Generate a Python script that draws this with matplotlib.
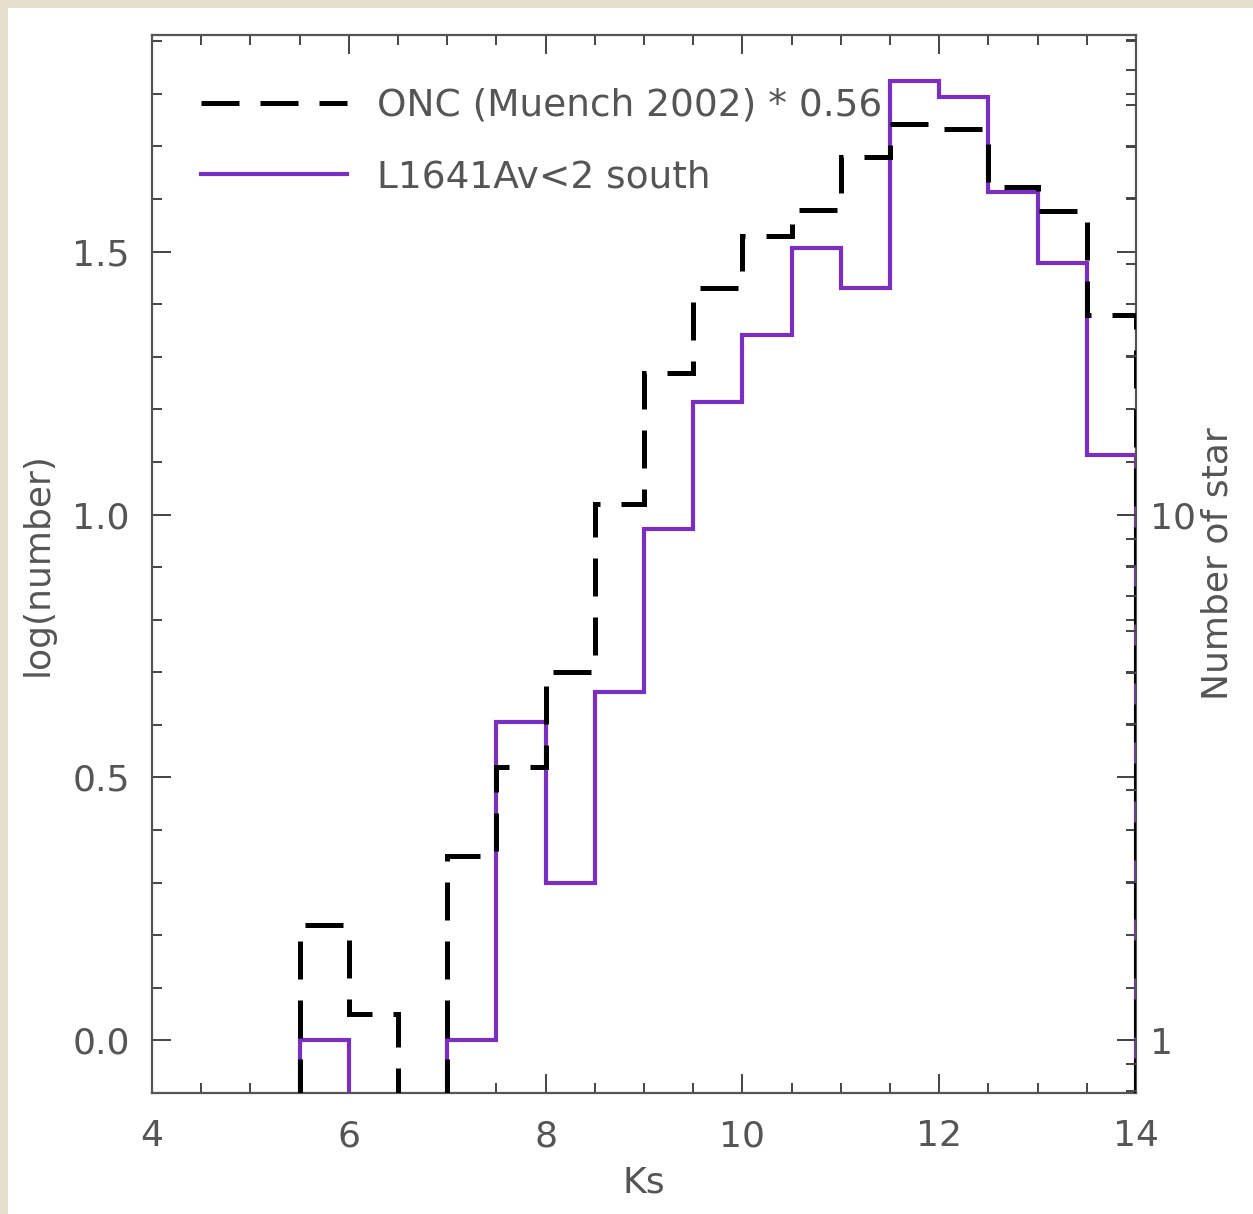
import numpy as np
import matplotlib
matplotlib.use("Agg")
import matplotlib.pyplot as plt
from matplotlib.patches import Rectangle
from matplotlib.ticker import FixedLocator, NullFormatter, FixedFormatter

# bin edges (Ks magnitude) and log10 counts; nan = empty bin (below the axis)
edges = np.arange(5.5, 14.01, 0.5)
onc_log = [0.22, 0.05, np.nan, 0.35, 0.52, 0.70, 1.02, 1.27, 1.43, 1.53,
           1.58, 1.68, 1.743, 1.733, 1.622, 1.577, 1.38]
l1641_log = [0.0, np.nan, np.nan, 0.0, 0.605, 0.30, 0.663, 0.973, 1.215, 1.342,
             1.506, 1.43, 1.825, 1.795, 1.614, 1.479, 1.114]

onc_label = "ONC (Muench 2002) * 0.56"
l1641_label = "L1641Av<2 south"

x_ticks = [4, 6, 8, 10, 12, 14]
y_ticks = [0.0, 0.5, 1.0, 1.5]
right_ticks = [1, 10]
right_minor = [0.8, 0.9, 2, 3, 4, 5, 6, 7, 8, 9, 20, 30, 40, 50, 60, 70, 80]

ymin, ymax = -0.1, 1.912
floor = -1.0  # where empty bins are drawn (clipped off the axes)

purple = "#7b2fc0"
gray = "#555555"
fs = 26

fig = plt.figure(figsize=(12.53, 12.14), dpi=100, facecolor="#e4dfcb")
fig.patches.append(Rectangle((8 / 1253, 0), 1, 1 - 8 / 1214, transform=fig.transFigure,
                             facecolor="white", edgecolor="none", zorder=-5))

ax = fig.add_axes([152 / 1253, 1 - 1093 / 1214, 984 / 1253, 1058 / 1214])
ax.set_facecolor("white")

l1641_vals = np.nan_to_num(np.array(l1641_log), nan=floor)
onc_vals = np.nan_to_num(np.array(onc_log), nan=floor)
ax.stairs(l1641_vals, edges, baseline=floor, color=purple, lw=3.0, label=l1641_label, zorder=2)
ax.stairs(onc_vals, edges, baseline=floor, color="black", lw=3.6,
          linestyle=(0, (7.6, 4.2)), label=onc_label, zorder=3)

ax.set_xlim(4, 14)
ax.set_ylim(ymin, ymax)
ax.set_xticks(x_ticks)
ax.set_xticks(np.arange(4, 14.01, 0.5), minor=True)
ax.set_yticks(y_ticks)
ax.set_yticklabels(["%.1f" % v for v in y_ticks])
ax.set_yticks(np.arange(-0.1, 1.91, 0.1), minor=True)

ax.set_xlabel("Ks", fontsize=fs, color=gray, labelpad=9)
ax.set_ylabel("log(number)", fontsize=fs, color=gray, labelpad=13)

for s in ax.spines.values():
    s.set_color("#555555")
    s.set_linewidth(1.6)

# right-hand axis: same scale shown as number of stars
ax2 = ax.twinx()
ax2.set_yscale("log")
ax2.set_ylim(10 ** ymin, 10 ** ymax)
ax2.yaxis.set_major_locator(FixedLocator(right_ticks))
ax2.yaxis.set_major_formatter(FixedFormatter([str(v) for v in right_ticks]))
ax2.yaxis.set_minor_locator(FixedLocator(right_minor))
ax2.yaxis.set_minor_formatter(NullFormatter())
ax2.tick_params(which="major", direction="in", length=14, width=1.4, color="#444444",
                labelsize=fs, labelcolor=gray, pad=10)
ax2.tick_params(which="minor", direction="in", length=7, width=1.4, color="#444444")
ax2.set_ylabel("Number of star", fontsize=fs, color=gray, labelpad=3)
for s in ax2.spines.values():
    s.set_visible(False)

ax.tick_params(which="major", direction="in", length=14, width=1.4, color="#444444",
               labelsize=fs, labelcolor=gray, top=True, right=True, labelright=False)
ax.tick_params(which="minor", direction="in", length=7, width=1.4, color="#444444",
               top=True, right=True)
ax.tick_params(axis="x", which="major", pad=19)
ax.tick_params(axis="y", which="major", pad=16)

handles, labels = ax.get_legend_handles_labels()
leg = ax.legend(handles[::-1], labels[::-1], loc="upper left", bbox_to_anchor=(0.05, 0.95),
                frameon=False, fontsize=27, handlelength=3.9, handletextpad=0.8,
                labelspacing=0.95, borderpad=0, borderaxespad=0)
for t in leg.get_texts():
    t.set_color(gray)

fig.savefig("out.png", dpi=100, facecolor=fig.get_facecolor())
